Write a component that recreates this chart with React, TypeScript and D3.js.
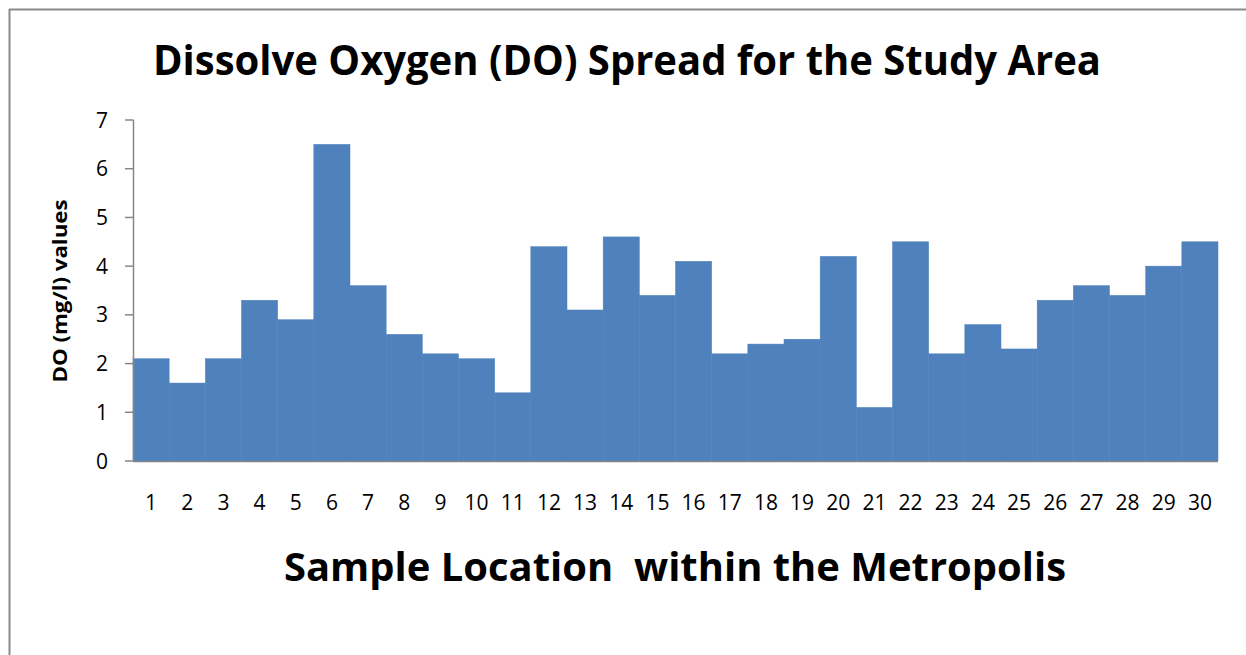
import React from "react";
import * as d3 from "d3";

const categories: string[] = Array.from({ length: 30 }, (_, i) => String(i + 1));
const doValues: number[] = [
  2.1, 1.6, 2.1, 3.3, 2.9, 6.5, 3.6, 2.6, 2.2, 2.1,
  1.4, 4.4, 3.1, 4.6, 3.4, 4.1, 2.2, 2.4, 2.5, 4.2,
  1.1, 4.5, 2.2, 2.8, 2.3, 3.3, 3.6, 3.4, 4.0, 4.5,
];
const yTicks: number[] = [0, 1, 2, 3, 4, 5, 6, 7];
const titleText = "Dissolve Oxygen (DO) Spread for the Study Area";
const xTitleText = "Sample Location  within the Metropolis";
const yTitleText = "DO (mg/l) values";

const W = 1246;
const H = 655;
const FONT = "'Open Sans', 'Noto Sans', sans-serif";

export default function App() {
  const x = d3.scaleBand<string>().domain(categories).range([133, 1218]).padding(0);
  const y = d3.scaleLinear().domain([0, 7]).range([461, 120]);
  const axisColor = "#868686";

  return (
    <svg
      width={W}
      height={H}
      style={{ position: "absolute", left: 0, top: 0, background: "#fff" }}
      fontFamily={FONT}
    >
      <rect x={0} y={0} width={W} height={H} fill="#fff" />
      {/* frame */}
      <line x1={9.5} y1={9} x2={9.5} y2={H} stroke="#8a8a8a" strokeWidth={2} />
      <line x1={9} y1={9.5} x2={W} y2={9.5} stroke="#8a8a8a" strokeWidth={2} />

      {/* title */}
      <text
        x={627}
        y={75}
        textAnchor="middle"
        fontWeight="bold"
        fontSize={42}
        textLength={948}
        lengthAdjust="spacingAndGlyphs"
        fill="#000"
      >
        {titleText}
      </text>

      {/* bars */}
      {doValues.map((v, i) => (
        <rect
          key={i}
          x={x(categories[i])!}
          y={y(v)}
          width={x.bandwidth()}
          height={y(0) - y(v)}
          fill="#4F81BD"
          stroke="#4F81BD"
          strokeWidth={0.5}
        />
      ))}

      {/* y axis */}
      <line x1={133.5} y1={y(7)} x2={133.5} y2={y(0)} stroke={axisColor} strokeWidth={1.5} />
      {yTicks.map((t) => (
        <g key={t}>
          <line x1={125} y1={y(t)} x2={133.5} y2={y(t)} stroke={axisColor} strokeWidth={1.5} />
          <text x={108} y={y(t)} dy="0.36em" textAnchor="end" fontSize={21} fill="#000">
            {t}
          </text>
        </g>
      ))}

      {/* x axis */}
      <line x1={133} y1={y(0) + 0.5} x2={1218} y2={y(0) + 0.5} stroke={axisColor} strokeWidth={1.5} />
      {categories.map((c) => (
        <text
          key={c}
          x={x(c)! + x.bandwidth() / 2}
          y={510}
          textAnchor="middle"
          fontSize={21}
          fill="#000"
        >
          {c}
        </text>
      ))}

      {/* x title */}
      <text
        x={675}
        y={581}
        textAnchor="middle"
        fontWeight="bold"
        fontSize={40}
        textLength={782}
        lengthAdjust="spacingAndGlyphs"
        fill="#000"
        style={{ whiteSpace: "pre" }}
      >
        {xTitleText}
      </text>

      {/* y title */}
      <text
        transform={`translate(67,291) rotate(-90)`}
        textAnchor="middle"
        fontWeight="bold"
        fontSize={19}
        textLength={183}
        lengthAdjust="spacingAndGlyphs"
        fill="#000"
      >
        {yTitleText}
      </text>
    </svg>
  );
}
